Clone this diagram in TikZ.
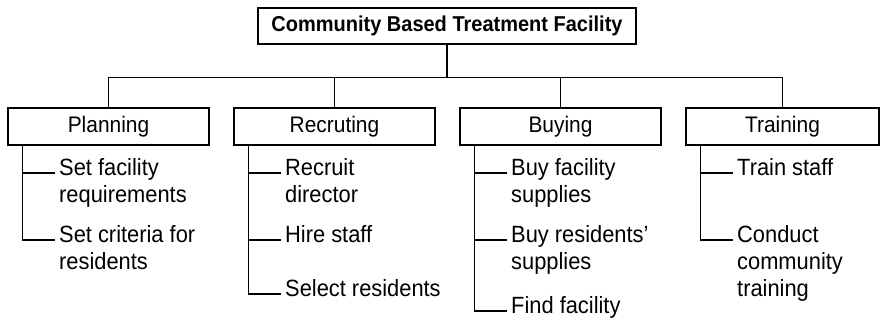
\documentclass[tikz,border=0pt]{standalone}
\usepackage{fontspec}
\setmainfont{Liberation Sans}[FakeStretch=0.93]
\usepackage{tikz}

\newcommand{\tasklines}[1]{\begin{tabular}[t]{@{}l@{}}#1\end{tabular}}

\tikzset{
  topbox/.style={draw, line width=1.2pt, minimum width=378pt, minimum height=36pt,
    font=\fontsize{21.5}{27}\selectfont\bfseries},
  groupbox/.style={draw, line width=1.2pt, minimum width=201pt, minimum height=37pt,
    font=\fontsize{22.5}{27}\selectfont},
  task/.style={anchor=mid west, inner xsep=4pt, inner ysep=0pt,
    font=\fontsize{23.5}{27}\selectfont},
  branch/.style={line width=1.2pt}
}

\begin{document}
\begin{tikzpicture}[x=1pt,y=-1pt]
\useasboundingbox (0,0) rectangle (880,322);
\node[topbox] (cbtf) at (447,26) {Community Based Treatment Facility};
\node[groupbox] (plan) at (108.5,126.5) {Planning};
\node[groupbox] (recr) at (334.5,126.5) {Recruting};
\node[groupbox] (buy) at (560.5,126.5) {Buying};
\node[groupbox, minimum width=193pt] (train) at (782.5,126.5) {Training}; % cut at the right edge
% bus
\draw[branch] (cbtf.south) -- ++(0,33) coordinate (bus);
\draw[branch] (plan.north) |- (bus) -| (train.north);
\draw[branch] (recr.north) -- (recr.north |- bus);
\draw[branch] (buy.north) -- (buy.north |- bus);
% planning
\node[task] (plan1) at (55,173) {\tasklines{Set facility\\requirements}};
\node[task] (plan2) at (55,240) {\tasklines{Set criteria for\\residents}};
\draw[branch] ([xshift=15pt]plan.south west) coordinate (planv) |- (plan2.mid west);
\draw[branch] (planv |- plan1.mid west) -- (plan1.mid west);
% recruting
\node[task] (recr1) at (281,173) {\tasklines{Recruit\\director}};
\node[task] (recr2) at (281,240) {Hire staff};
\node[task] (recr3) at (281,294) {Select residents};
\draw[branch] ([xshift=15pt]recr.south west) coordinate (recrv) |- (recr3.mid west);
\draw[branch] (recrv |- recr1.mid west) -- (recr1.mid west);
\draw[branch] (recrv |- recr2.mid west) -- (recr2.mid west);
% buying
\node[task] (buy1) at (507,173) {\tasklines{Buy facility\\supplies}};
\node[task] (buy2) at (507,240) {\tasklines{Buy residents’\\supplies}};
\node[task] (buy3) at (507,311) {Find facility};
\draw[branch] ([xshift=15pt]buy.south west) coordinate (buyv) |- (buy3.mid west);
\draw[branch] (buyv |- buy1.mid west) -- (buy1.mid west);
\draw[branch] (buyv |- buy2.mid west) -- (buy2.mid west);
% training
\node[task] (train1) at (733,173) {Train staff};
\node[task] (train2) at (733,240) {\tasklines{Conduct\\community\\training}};
\draw[branch] ([xshift=15pt]train.south west) coordinate (trainv) |- (train2.mid west);
\draw[branch] (trainv |- train1.mid west) -- (train1.mid west);
\end{tikzpicture}
\end{document}
